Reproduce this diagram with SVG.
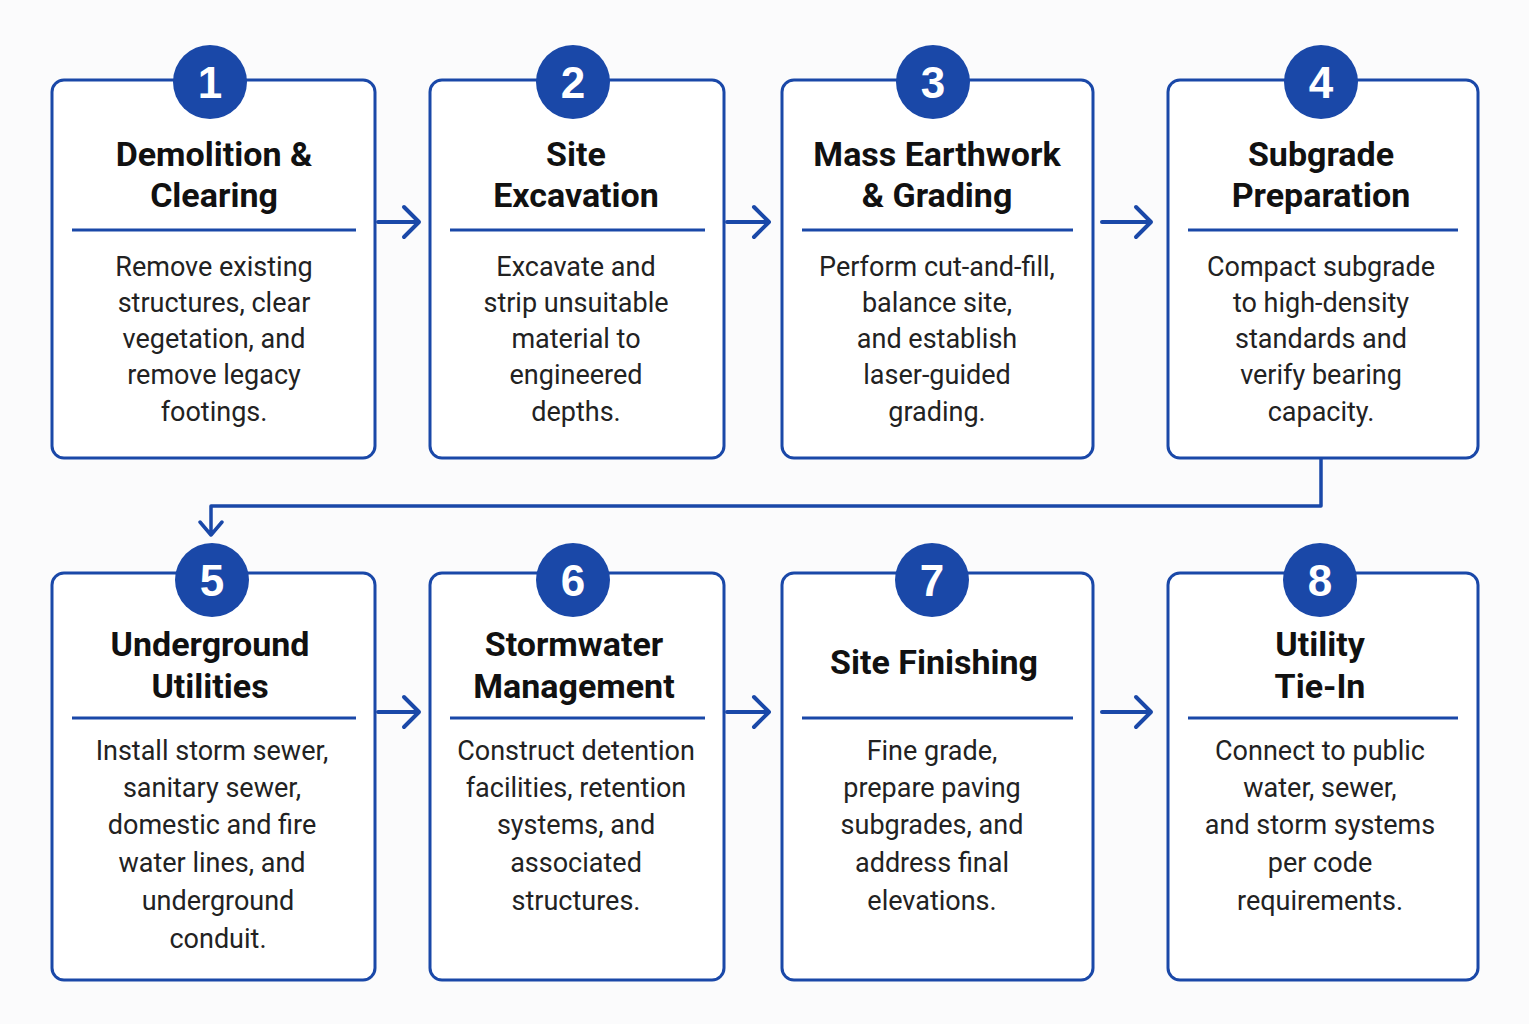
<svg xmlns="http://www.w3.org/2000/svg" width="1529" height="1024" viewBox="0 0 1529 1024">
<style>
.box{fill:#fff;stroke:#1a48a8;stroke-width:3}
.circ{fill:#1a48a8}
.num{fill:#fff;font:bold 44px "Liberation Sans",Arial,sans-serif;text-anchor:middle}
.t{fill:#111;font:bold 34px "Roboto","Liberation Sans",sans-serif;text-anchor:middle}
.b{fill:#222;font:27px "Roboto","Liberation Sans",sans-serif;text-anchor:middle}
.div{stroke:#1a48a8;stroke-width:3}
.c{fill:none;stroke:#1a48a8;stroke-width:4;stroke-linecap:round;stroke-linejoin:round}
</style>
<rect width="1529" height="1024" fill="#fbfbfc"/>
<g id="connectors" class="c">
<path d="M378 222H418M404 207L419 222L404 237"/>
<path d="M727 222H768M754 207L769 222L754 237"/>
<path d="M1102 222H1150M1136 207L1151 222L1136 237"/>
<path d="M1321 459V506H211V535M200 522L211 535L222 522" stroke-width="3.5"/>
<path d="M378 712H418M404 697L419 712L404 727"/>
<path d="M727 712H768M754 697L769 712L754 727"/>
<path d="M1102 712H1150M1136 697L1151 712L1136 727"/>
</g>
<g id="n1"><rect class="box" x="52" y="80" width="323" height="378" rx="12"/><circle class="circ" cx="210" cy="82" r="37"/><text class="num" x="210" y="98">1</text>
<text class="t" x="214" y="166">Demolition &amp;</text><text class="t" x="214" y="207">Clearing</text><line class="div" x1="72" y1="230" x2="356" y2="230"/>
<text class="b" x="214" y="276">Remove existing</text><text class="b" x="214" y="312">structures, clear</text><text class="b" x="214" y="348">vegetation, and</text><text class="b" x="214" y="384">remove legacy</text><text class="b" x="214" y="421">footings.</text></g>
<g id="n2"><rect class="box" x="430" y="80" width="294" height="378" rx="12"/><circle class="circ" cx="573" cy="82" r="37"/><text class="num" x="573" y="98">2</text>
<text class="t" x="576" y="166">Site</text><text class="t" x="576" y="207">Excavation</text><line class="div" x1="450" y1="230" x2="705" y2="230"/>
<text class="b" x="576" y="276">Excavate and</text><text class="b" x="576" y="312">strip unsuitable</text><text class="b" x="576" y="348">material to</text><text class="b" x="576" y="384">engineered</text><text class="b" x="576" y="421">depths.</text></g>
<g id="n3"><rect class="box" x="782" y="80" width="311" height="378" rx="12"/><circle class="circ" cx="933" cy="82" r="37"/><text class="num" x="933" y="98">3</text>
<text class="t" x="937" y="166">Mass Earthwork</text><text class="t" x="937" y="207">&amp; Grading</text><line class="div" x1="802" y1="230" x2="1073" y2="230"/>
<text class="b" x="937" y="276">Perform cut-and-fill,</text><text class="b" x="937" y="312">balance site,</text><text class="b" x="937" y="348">and establish</text><text class="b" x="937" y="384">laser-guided</text><text class="b" x="937" y="421">grading.</text></g>
<g id="n4"><rect class="box" x="1168" y="80" width="310" height="378" rx="12"/><circle class="circ" cx="1321" cy="82" r="37"/><text class="num" x="1321" y="98">4</text>
<text class="t" x="1321" y="166">Subgrade</text><text class="t" x="1321" y="207">Preparation</text><line class="div" x1="1188" y1="230" x2="1458" y2="230"/>
<text class="b" x="1321" y="276">Compact subgrade</text><text class="b" x="1321" y="312">to high-density</text><text class="b" x="1321" y="348">standards and</text><text class="b" x="1321" y="384">verify bearing</text><text class="b" x="1321" y="421">capacity.</text></g>
<g id="n5"><rect class="box" x="52" y="573" width="323" height="407" rx="12"/><circle class="circ" cx="212" cy="580" r="37"/><text class="num" x="212" y="596">5</text>
<text class="t" x="210" y="656">Underground</text><text class="t" x="210" y="698">Utilities</text><line class="div" x1="72" y1="718" x2="356" y2="718"/>
<text class="b" x="212" y="760">Install storm sewer,</text><text class="b" x="212" y="797">sanitary sewer,</text><text class="b" x="212" y="834">domestic and fire</text><text class="b" x="212" y="872">water lines, and</text><text class="b" x="218" y="910">underground</text><text class="b" x="218" y="948">conduit.</text></g>
<g id="n6"><rect class="box" x="430" y="573" width="294" height="407" rx="12"/><circle class="circ" cx="573" cy="580" r="37"/><text class="num" x="573" y="596">6</text>
<text class="t" x="574" y="656">Stormwater</text><text class="t" x="574" y="698">Management</text><line class="div" x1="450" y1="718" x2="705" y2="718"/>
<text class="b" x="576" y="760">Construct detention</text><text class="b" x="576" y="797">facilities, retention</text><text class="b" x="576" y="834">systems, and</text><text class="b" x="576" y="872">associated</text><text class="b" x="576" y="910">structures.</text></g>
<g id="n7"><rect class="box" x="782" y="573" width="311" height="407" rx="12"/><circle class="circ" cx="932" cy="580" r="37"/><text class="num" x="932" y="596">7</text>
<text class="t" x="934" y="674">Site Finishing</text><line class="div" x1="802" y1="718" x2="1073" y2="718"/>
<text class="b" x="932" y="760">Fine grade,</text><text class="b" x="932" y="797">prepare paving</text><text class="b" x="932" y="834">subgrades, and</text><text class="b" x="932" y="872">address final</text><text class="b" x="932" y="910">elevations.</text></g>
<g id="n8"><rect class="box" x="1168" y="573" width="310" height="407" rx="12"/><circle class="circ" cx="1320" cy="580" r="37"/><text class="num" x="1320" y="596">8</text>
<text class="t" x="1320" y="656">Utility</text><text class="t" x="1320" y="698">Tie-In</text><line class="div" x1="1188" y1="718" x2="1458" y2="718"/>
<text class="b" x="1320" y="760">Connect to public</text><text class="b" x="1320" y="797">water, sewer,</text><text class="b" x="1320" y="834">and storm systems</text><text class="b" x="1320" y="872">per code</text><text class="b" x="1320" y="910">requirements.</text></g>
</svg>
